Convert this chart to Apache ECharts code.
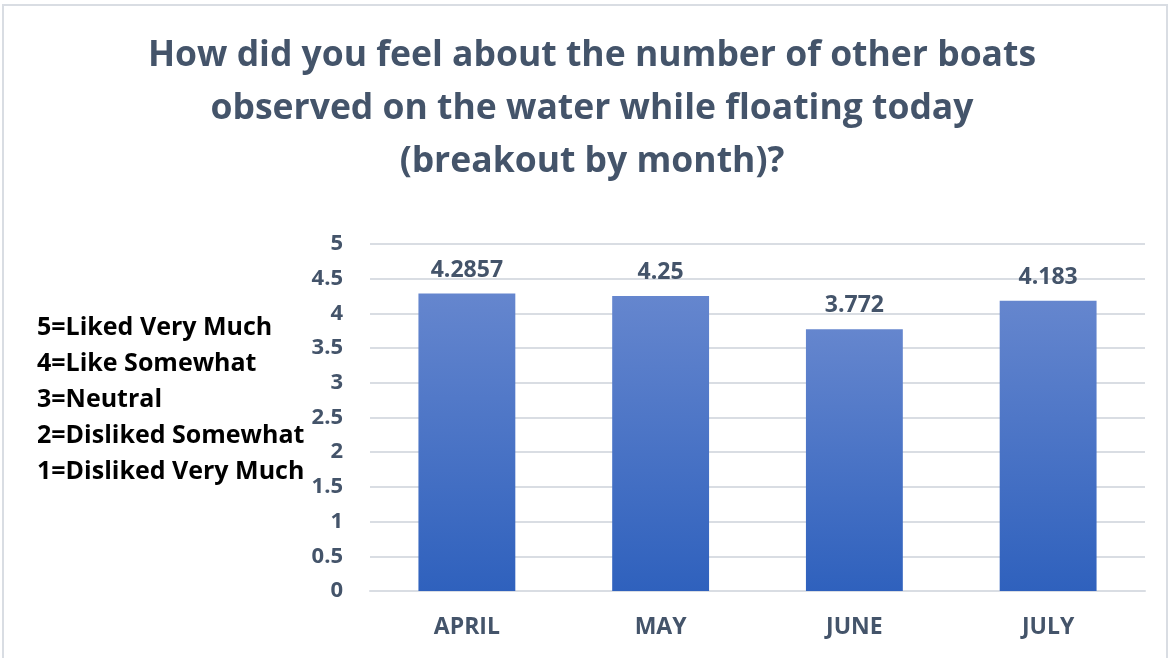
<!DOCTYPE html>
<html><head><meta charset="utf-8">
<script src="https://cdn.jsdelivr.net/npm/echarts@6/dist/echarts.min.js"></script>
<style>html,body{margin:0;padding:0;background:#fff}#c{width:1169px;height:658px}</style>
</head><body><div id="c"></div>
<script>
var categories = ['APRIL', 'MAY', 'JUNE', 'JULY'];
var values = [4.2857, 4.25, 3.772, 4.183];
var valueLabels = ['4.2857', '4.25', '3.772', '4.183'];
var legendLines = ['5=Liked Very Much', '4=Like Somewhat', '3=Neutral', '2=Disliked Somewhat', '1=Disliked Very Much'];
var titleLines = ['How did you feel about the number of other boats', 'observed on the water while floating today', '(breakout by month)?'];

var FONT = '"Open Sans", sans-serif';
var TXT = '#44546A';
var chart = echarts.init(document.getElementById('c'), null, {renderer: 'canvas'});
chart.setOption({
  animation: false,
  backgroundColor: '#fff',
  graphic: [
    {type: 'rect', shape: {x: 3, y: 5, width: 1164, height: 660}, style: {fill: 'none', stroke: '#D9DDE3', lineWidth: 2}, silent: true},
    {type: 'text', left: 37, top: 310, style: {text: legendLines.join('\n'), fill: '#000', font: 'bold 25px ' + FONT, lineHeight: 36}},
    {type: 'text', x: 592, y: 29, style: {text: titleLines.join('\n'), fill: TXT, font: 'bold 35.5px ' + FONT, lineHeight: 53, align: 'center', verticalAlign: 'top'}}
  ],
  grid: {left: 370, right: 24, top: 244, bottom: 67, containLabel: false},
  xAxis: {
    type: 'category', data: categories,
    axisLine: {show: true, lineStyle: {color: '#D9DDE3', width: 2}},
    axisTick: {show: false},
    axisLabel: {color: TXT, fontFamily: FONT, fontWeight: 'bold', fontSize: 23, margin: 25}
  },
  yAxis: {
    type: 'value', min: 0, max: 5, interval: 0.5,
    axisLine: {show: false}, axisTick: {show: false},
    splitLine: {lineStyle: {color: '#D9DDE3', width: 2}},
    axisLabel: {color: TXT, fontFamily: FONT, fontWeight: 'bold', fontSize: 22, margin: 27}
  },
  series: [{
    type: 'bar', data: values, barWidth: '50%',
    itemStyle: {color: new echarts.graphic.LinearGradient(0, 0, 0, 1, [
      {offset: 0, color: '#6586CE'}, {offset: 1, color: '#2F61BD'}])},
    label: {show: true, position: 'top', distance: 12, color: TXT, fontFamily: FONT, fontWeight: 'bold', fontSize: 23,
      formatter: function (p) { return valueLabels[p.dataIndex]; }}
  }]
});
</script></body></html>
